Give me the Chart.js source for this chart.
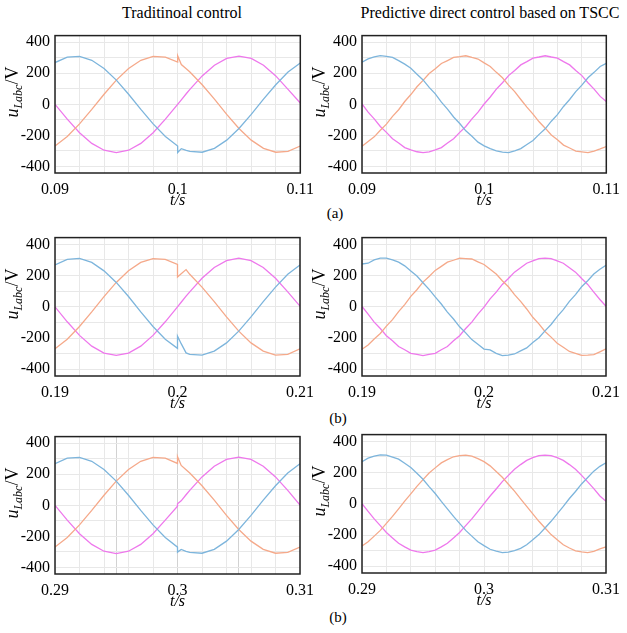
<!DOCTYPE html>
<html>
<head>
<meta charset="utf-8">
<script src="https://cdn.jsdelivr.net/npm/chart.js@4.4.0/dist/chart.umd.min.js"></script>
<style>
  body { margin: 0; background: #fff; width: 627px; height: 633px; position: relative; overflow: hidden; font-family: "Liberation Serif", serif; }
  canvas { position: absolute; }
  .txt { position: absolute; transform: translate(-50%, -50%); white-space: nowrap; color: #000; }
</style>
</head>
<body>
<div class="txt" style="left:182px;top:13px;font-size:16px">Traditinoal control</div>
<div class="txt" style="left:490px;top:13px;font-size:16px">Predictive direct control based on TSCC</div>
<div class="txt" style="left:335px;top:213px;font-size:15px">(a)</div>
<div class="txt" style="left:338px;top:418px;font-size:15px">(b)</div>
<div class="txt" style="left:338px;top:617px;font-size:15px">(b)</div>

<script>
// window start times of each row (s)
const rowStarts = [0.09, 0.19, 0.29];
const xTickLabels = [["0.09", "0.1", "0.11"], ["0.19", "0.2", "0.21"], ["0.29", "0.3", "0.31"]];
const xTickOffsets = [0, 0.01, 0.02];
const yTickValues = [-400, -200, 0, 200, 400];
const yTickLabels = ["-400", "-200", "0", "200", "400"];

// sample times inside one window, traditional control (with the step at the middle)
const tradT = [0, 0.001, 0.002, 0.003, 0.004, 0.005, 0.006, 0.007, 0.008, 0.009,
  0.01, 0.01, 0.0103, 0.0107,
  0.011, 0.012, 0.013, 0.014, 0.015, 0.016, 0.017, 0.018, 0.019, 0.02];

// sample times inside one window, TSCC
const tsccT = [0, 0.0005, 0.001, 0.0015, 0.002, 0.0025, 0.003, 0.0035, 0.004, 0.0045,
  0.005, 0.0055, 0.006, 0.0065, 0.007, 0.0075, 0.008, 0.0085, 0.009, 0.0095,
  0.01, 0.0105, 0.011, 0.0115, 0.012, 0.0125, 0.013, 0.0135, 0.014, 0.0145,
  0.015, 0.0155, 0.016, 0.0165, 0.017, 0.0175, 0.018, 0.0185, 0.019, 0.0195,
  0.02];

// traditional control, u_La (blue), u_Lb (orange), u_Lc (magenta)
const tradBlueA = [269, 304, 309, 284, 231, 156, 65, -33, -126, -208, -269, -311, -286, -297, -304, -309, -284, -231, -156, -65, 33, 126, 208, 266];
const tradOrangeA = [-269, -208, -126, -33, 65, 156, 231, 284, 309, 304, 272, 313, 256, 229, 208, 126, 33, -65, -156, -231, -284, -309, -304, -269];
const tradMagentaA = [0, -96, -183, -252, -296, -311, -296, -252, -183, -96, 0, 0, 29, 68, 96, 183, 252, 296, 311, 296, 252, 183, 96, 8];

const tradBlueB = [268, 303, 310, 284, 230, 156, 66, -33, -126, -208, -266, -188, -236, -295, -304, -309, -284, -231, -156, -65, 33, 126, 208, 268];
const tradOrangeB = [-269, -208, -126, -33, 65, 156, 231, 284, 309, 304, 271, 191, 212, 238, 208, 126, 33, -65, -156, -231, -284, -309, -304, -269];
const tradMagentaB = [0, -96, -183, -252, -296, -311, -296, -252, -183, -96, 0, 0, 29, 68, 96, 183, 252, 296, 311, 296, 252, 183, 96, 4];

const tradBlueC = [268, 304, 309, 284, 231, 156, 65, -33, -126, -208, -270, -302, -285, -297, -304, -309, -284, -231, -156, -65, 33, 126, 208, 268];
const tradOrangeC = [-269, -208, -126, -33, 65, 156, 231, 284, 309, 304, 270, 314, 257, 229, 208, 126, 33, -65, -156, -231, -284, -309, -304, -269];
const tradMagentaC = [0, -96, -183, -252, -296, -311, -296, -252, -183, -96, -6, 10, 29, 68, 96, 183, 252, 296, 311, 296, 252, 183, 96, 2];

// predictive direct control based on TSCC
const tsccBlueA = [271, 293, 306, 314, 309, 302, 282, 259, 233, 194,
  157, 109, 67, 14, -31, -82, -124, -171, -206, -244,
  -268, -286, -300, -309, -312, -301, -286, -259, -233, -194,
  -158, -109, -67, -14, 31, 82, 124, 171, 206, 244,
  264];
const tsccOrangeA = [-271, -240, -210, -167, -128, -78, -35, 18, 63, 113,
  154, 198, 229, 263, 282, 302, 307, 313, 302, 292,
  267, 244, 206, 171, 124, 82, 31, -18, -63, -113,
  -154, -198, -229, -263, -282, -302, -307, -312, -302, -288,
  -272];
const tsccMagentaA = [2, -51, -94, -143, -181, -222, -250, -279, -294, -306,
  -312, -307, -294, -279, -250, -222, -181, -143, -94, -51,
  2, 47, 98, 139, 185, 218, 254, 275, 298, 305,
  313, 305, 298, 275, 254, 218, 185, 139, 98, 51,
  18];

const tsccBlueB = [274, 279, 300, 311, 312, 301, 286, 262, 229, 197,
  154, 112, 63, 18, -34, -78, -128, -167, -210, -240,
  -271, -276, -298, -313, -310, -302, -282, -263, -229, -198,
  -154, -113, -63, -18, 35, 78, 128, 167, 210, 240,
  266];
const tsccOrangeB = [-272, -244, -206, -171, -124, -82, -31, 14, 67, 109,
  158, 194, 233, 259, 286, 298, 311, 309, 306, 288,
  271, 240, 210, 167, 128, 78, 35, -14, -67, -109,
  -158, -194, -233, -259, -286, -298, -311, -309, -306, -288,
  -269];
const tsccMagentaB = [3, -47, -98, -139, -185, -218, -254, -275, -298, -305,
  -313, -305, -298, -275, -254, -218, -185, -139, -98, -47,
  -2, 51, 94, 143, 181, 222, 250, 279, 294, 309,
  311, 309, 294, 279, 250, 222, 181, 143, 94, 47,
  3];

const tsccBlueC = [270, 292, 305, 313, 312, 299, 286, 260, 232, 195,
  157, 110, 66, 15, -32, -81, -125, -170, -207, -243,
  -268, -291, -303, -312, -310, -299, -285, -262, -230, -197,
  -155, -112, -64, -17, 34, 79, 127, 168, 209, 240,
  262];
const tsccOrangeC = [-270, -243, -207, -170, -125, -81, -32, 17, 64, 112,
  155, 197, 230, 262, 283, 301, 308, 312, 305, 289,
  270, 243, 207, 170, 125, 81, 32, -17, -64, -112,
  -155, -197, -230, -262, -283, -301, -308, -312, -305, -289,
  -276];
const tsccMagentaC = [1, -48, -97, -140, -184, -219, -253, -276, -297, -306,
  -312, -306, -297, -276, -253, -219, -184, -140, -97, -48,
  1, 50, 95, 142, 182, 221, 251, 278, 295, 308,
  312, 308, 295, 278, 251, 221, 182, 140, 97, 50,
  16];

// grid
const xGridOffsets = [0, 0.002, 0.004, 0.006, 0.008, 0.01, 0.012, 0.014, 0.016, 0.018, 0.02];
const yGridValues = [-400, -300, -200, -100, 0, 100, 200, 300, 400];

const COLORS = { blue: "#7db5dc", orange: "#f5a98a", magenta: "#ee78ec" };
const FONT = '"Liberation Serif", "Times New Roman", serif';

Chart.defaults.font.family = FONT;
Chart.defaults.font.size = 16;
Chart.defaults.color = "#000";

// frame + rotated y title with subscript
const framePlugin = {
  id: "frame",
  afterDraw(chart) {
    const { ctx, chartArea: a } = chart;
    ctx.save();
    ctx.strokeStyle = "#222";
    ctx.lineWidth = 1.5;
    ctx.strokeRect(a.left, a.top, a.right - a.left, a.bottom - a.top);

    ctx.translate(a.left - 37, a.top + 82);
    ctx.rotate(-Math.PI / 2);
    ctx.fillStyle = "#000";
    ctx.textBaseline = "alphabetic";
    ctx.font = "italic 18px " + FONT;
    ctx.fillText("u", 0, 0);
    let x = ctx.measureText("u").width;
    ctx.font = "italic 12px " + FONT;
    ctx.fillText("Labc", x, 4);
    x += ctx.measureText("Labc").width;
    ctx.font = "18px " + FONT;
    ctx.fillText("/V", x, 0);
    ctx.restore();
  },
};

const near = (a, b) => Math.abs(a - b) < 1e-9;

function makePanel(box, row, times, blue, orange, magenta, majors) {
  const canvas = document.createElement("canvas");
  canvas.width = box.width;
  canvas.height = box.height;
  canvas.style.left = box.left + "px";
  canvas.style.top = box.top + "px";
  canvas.style.width = box.width + "px";
  canvas.style.height = box.height + "px";
  document.body.appendChild(canvas);

  const start = rowStarts[row];
  const pts = (vals) => vals.map((v, i) => ({ x: start + times[i], y: v }));
  const line = (label, vals, color) => ({
    label,
    data: pts(vals),
    borderColor: color,
    borderWidth: 1.3,
    pointRadius: 0,
    tension: 0,
    fill: false,
  });

  new Chart(canvas, {
    type: "line",
    data: {
      datasets: [
        line("u_La", blue, COLORS.blue),
        line("u_Lb", orange, COLORS.orange),
        line("u_Lc", magenta, COLORS.magenta),
      ],
    },
    options: {
      responsive: false,
      animation: false,
      devicePixelRatio: 1,
      layout: { padding: { top: 10, right: box.pr, left: 0, bottom: 0 } },
      plugins: { legend: { display: false }, tooltip: { enabled: false } },
      scales: {
        x: {
          type: "linear",
          min: start,
          max: start + 0.02,
          afterBuildTicks: (axis) => {
            const vals = xGridOffsets.map((o) => start + o);
            majors.forEach((m) => { if (!vals.some((v) => near(v, m))) vals.push(m); });
            vals.sort((p, q) => p - q);
            axis.ticks = vals.map((v) => ({ value: v }));
          },
          afterFit: (axis) => { axis.height = 37; },
          grid: {
            drawTicks: false,
            lineWidth: 1,
            color: (c) => (c.tick && majors.some((m) => near(m, c.tick.value)) ? "#d2d2d2" : "#e8e8e8"),
          },
          border: { display: false },
          ticks: {
            autoSkip: false,
            maxRotation: 0,
            minRotation: 0,
            padding: 7,
            font: { size: 16 },
            callback: (value) => {
              const j = xTickOffsets.findIndex((o) => near(start + o, value));
              return j >= 0 ? xTickLabels[row][j] : "";
            },
          },
          title: {
            display: true,
            text: "t/s",
            font: { size: 16, style: "italic" },
            padding: { top: 0, bottom: 0 },
          },
        },
        y: {
          min: -443,
          max: 443,
          afterBuildTicks: (axis) => {
            axis.ticks = yGridValues.map((v) => ({ value: v }));
          },
          afterFit: (axis) => { axis.width = box.yw; },
          grid: { drawTicks: false, lineWidth: 1, color: "#e8e8e8" },
          border: { display: false },
          ticks: {
            autoSkip: false,
            padding: 5,
            font: { size: 16 },
            callback: (value) => {
              const j = yTickValues.indexOf(value);
              return j >= 0 ? yTickLabels[j] : "";
            },
          },
        },
      },
    },
    plugins: [framePlugin],
  });
}

const boxes = [
  { left: 0, top: 21, width: 321, height: 189, yw: 55, pr: 14 },
  { left: 310, top: 21, width: 317, height: 189, yw: 52, pr: 14 },
  { left: 0, top: 223, width: 321, height: 190, yw: 55, pr: 14 },
  { left: 310, top: 223, width: 317, height: 190, yw: 52, pr: 14 },
  { left: 0, top: 422, width: 321, height: 189, yw: 55, pr: 14 },
  { left: 310, top: 420, width: 317, height: 190, yw: 52, pr: 13 },
];

function drawAll() {
  makePanel(boxes[0], 0, tradT, tradBlueA, tradOrangeA, tradMagentaA, []);
  makePanel(boxes[1], 0, tsccT, tsccBlueA, tsccOrangeA, tsccMagentaA, []);
  makePanel(boxes[2], 1, tradT, tradBlueB, tradOrangeB, tradMagentaB, []);
  makePanel(boxes[3], 1, tsccT, tsccBlueB, tsccOrangeB, tsccMagentaB, []);
  makePanel(boxes[4], 2, tradT, tradBlueC, tradOrangeC, tradMagentaC, [0.295, 0.3, 0.305]);
  makePanel(boxes[5], 2, tsccT, tsccBlueC, tsccOrangeC, tsccMagentaC, []);
}

// make sure the serif faces are ready before the canvases draw text
Promise.all([
  document.fonts.load('16px "Liberation Serif"'),
  document.fonts.load('italic 16px "Liberation Serif"'),
]).then(drawAll, drawAll);
</script>
</body>
</html>
